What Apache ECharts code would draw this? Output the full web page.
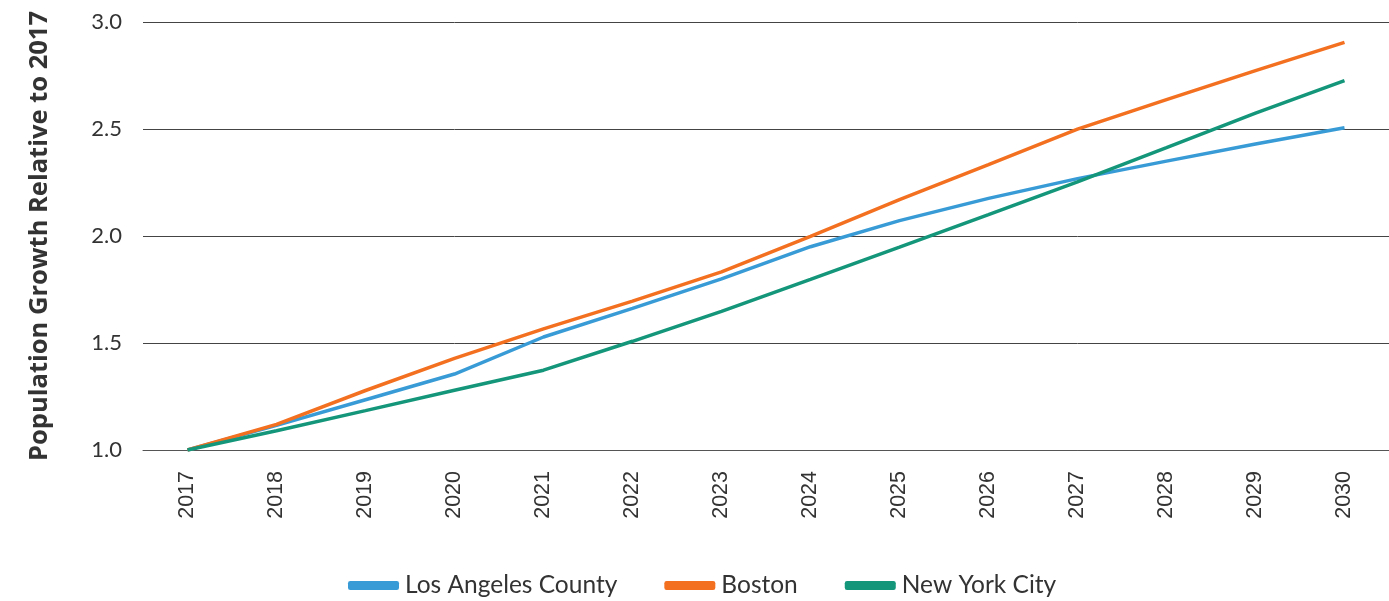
<!DOCTYPE html>
<html><head><meta charset="utf-8">
<script src="https://cdn.jsdelivr.net/npm/echarts@6/dist/echarts.min.js"></script>
<style>html,body{margin:0;padding:0;background:#fff}#c{width:1389px;height:601px}</style>
</head><body><div id="c"></div>
<script>
const years = ['2017','2018','2019','2020','2021','2022','2023','2024','2025','2026','2027','2028','2029','2030'];
const losAngeles = [1.0,1.115,1.235,1.355,1.528,1.662,1.80,1.95,2.072,2.176,2.268,2.35,2.43,2.506];
const boston = [1.0,1.12,1.278,1.428,1.566,1.696,1.832,1.998,2.17,2.334,2.499,2.637,2.773,2.905];
const newYork = [1.0,1.09,1.184,1.279,1.373,1.508,1.648,1.797,1.948,2.10,2.253,2.413,2.574,2.726];
const yTicks = [1.0,1.5,2.0,2.5,3.0];

const chart = echarts.init(document.getElementById('c'));
const font = 'Lato, "Noto Sans", sans-serif';
chart.setOption({
  animation:false,
  grid:{left:143,right:0,top:22,bottom:151,containLabel:false},
  legend:{
    top:568,left:343,itemWidth:51,itemHeight:9,itemGap:47,
    icon:'roundRect',
    textStyle:{fontFamily:font,fontSize:24.5,color:'#333',padding:[0,0,0,1]},
    data:['Los Angeles County','Boston','New York City']
  },
  xAxis:{
    type:'category',data:years,boundaryGap:true,
    axisLine:{lineStyle:{color:'#555',width:1}},
    axisTick:{show:false},
    axisLabel:{rotate:90,fontFamily:'"Liberation Sans", Arial, sans-serif',fontSize:21.5,color:'#333',margin:21}
  },
  yAxis:{
    type:'value',min:1.0,max:3.0,interval:0.5,
    name:'Population Growth Relative to 2017',nameLocation:'middle',nameGap:90,
    nameTextStyle:{fontFamily:'"Open Sans", "Noto Sans", sans-serif',fontSize:25.5,fontWeight:'bold',color:'#333'},
    axisLine:{show:false},axisTick:{show:false},
    axisLabel:{fontFamily:font,fontSize:22,color:'#333',margin:21,formatter:v=>v.toFixed(1)},
    splitLine:{lineStyle:{color:'#444',width:1}}
  },
  series:[
    {name:'Los Angeles County',type:'line',data:losAngeles,symbol:'none',lineStyle:{width:3.5,color:'#389bd6'},itemStyle:{color:'#389bd6'}},
    {name:'Boston',type:'line',data:boston,symbol:'none',lineStyle:{width:3.5,color:'#f37021'},itemStyle:{color:'#f37021'}},
    {name:'New York City',type:'line',data:newYork,symbol:'none',lineStyle:{width:3.5,color:'#14967a'},itemStyle:{color:'#14967a'}}
  ]
});
</script></body></html>
